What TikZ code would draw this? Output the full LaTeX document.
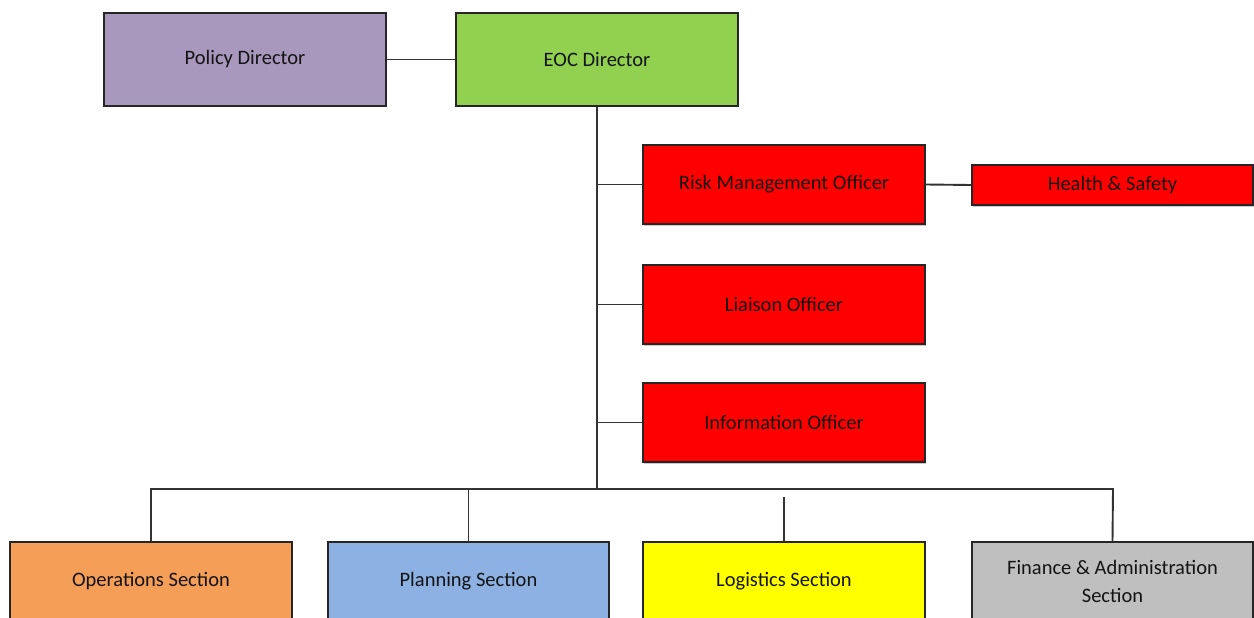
\documentclass[tikz,border=0pt]{standalone}
\usepackage{fontspec}
\setmainfont{Carlito}
\usetikzlibrary{shadows}
\definecolor{purpbox}{HTML}{A898BE}
\definecolor{greenbox}{HTML}{92D050}
\definecolor{redbox}{HTML}{FF0000}
\definecolor{orangebox}{HTML}{F59E58}
\definecolor{bluebox}{HTML}{8DB1E2}
\definecolor{yellowbox}{HTML}{FFFF00}
\definecolor{graybox}{HTML}{BFBFBF}
\definecolor{linecol}{HTML}{333333}
\definecolor{txtcol}{HTML}{141414}
\tikzset{
  orgbox/.style={draw=black!85, line width=1.4pt, rectangle, inner sep=0pt,
    text=txtcol, align=center, font=\fontsize{20.5}{28}\selectfont,
    drop shadow={shadow xshift=0.8pt, shadow yshift=-1.5pt, fill=black!35, opacity=0.6}},
  conn/.style={draw=linecol, line width=1.9pt},
  lbl/.style={yshift=-2pt},
}
\begin{document}
\begin{tikzpicture}[x=1pt,y=-1pt]
\clip (0,0) rectangle (1254,618);
\fill[white] (0,0) rectangle (1254,618);
% top row
\node[orgbox, fill=purpbox, minimum width=282pt, minimum height=93pt] (pd) at (245,59.5) {\raisebox{-2pt}{Policy Director}};
\node[orgbox, fill=greenbox, minimum width=282pt, minimum height=93pt] (eoc) at (597,59.5) {\raisebox{-1pt}{EOC Director}};
% officers
\node[orgbox, fill=redbox, minimum width=282pt, minimum height=79pt] (rmo) at (784,184.5) {\raisebox{-2pt}{Risk Management Officer}};
\node[orgbox, fill=redbox, minimum width=281pt, minimum height=40pt] (hs) at (1112.5,185) {Health \& Safety};
\node[orgbox, fill=redbox, minimum width=282pt, minimum height=79pt] (lo) at (784,304.5) {Liaison Officer};
\node[orgbox, fill=redbox, minimum width=282pt, minimum height=79pt] (io) at (784,422.5) {Information Officer};
% sections
\node[orgbox, fill=orangebox, minimum width=282pt, minimum height=79pt] (ops) at (151,581.5) {\raisebox{-2pt}{Operations Section}};
\node[orgbox, fill=bluebox, minimum width=281pt, minimum height=79pt] (plan) at (468.5,581.5) {\raisebox{-2pt}{Planning Section}};
\node[orgbox, fill=yellowbox, minimum width=282pt, minimum height=79pt] (log) at (784,581.5) {\raisebox{-2pt}{Logistics Section}};
\node[orgbox, fill=graybox, minimum width=281pt, minimum height=79pt] (fin) at (1112.5,581.5) {Finance \& Administration\\Section};
% coordinates
\coordinate (bus) at (597,489);
\coordinate (busL) at (151,489);
\coordinate (busR) at (1113,489);
\coordinate (logtop) at (784,497);
% connectors
\draw[conn] (pd.east) -- (eoc.west);
\draw[conn] (eoc.south) -- (bus);
\draw[conn] (rmo.west -| eoc.south) -- (rmo.west);
\draw[conn] (lo.west -| eoc.south) -- (lo.west);
\draw[conn] (io.west -| eoc.south) -- (io.west);
\draw[conn] (rmo.east) -- (hs.west);
\draw[conn, line cap=rect] (busL) -- (busR);
\draw[conn] (busL) -- (ops.north);
\draw[conn] (plan.north |- bus) -- (plan.north);
\draw[conn] (logtop) -- (log.north);
\draw[conn] (busR) -- (fin.north);
\end{tikzpicture}
\end{document}
